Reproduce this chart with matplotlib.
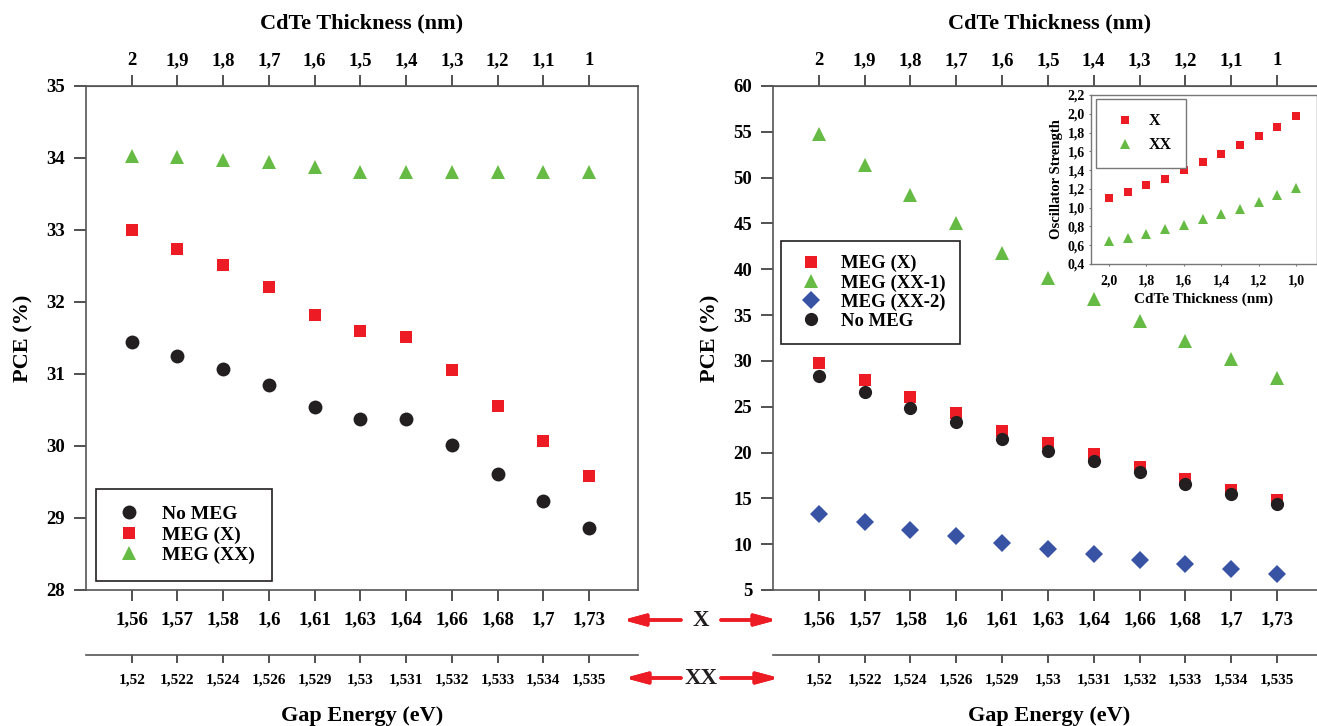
import numpy as np
import matplotlib.pyplot as plt
from matplotlib.ticker import FuncFormatter

plt.rcParams['font.family'] = ['Liberation Serif', 'DejaVu Serif']
plt.rcParams['font.weight'] = 'bold'
plt.rcParams['axes.labelweight'] = 'bold'

# category labels shared by both panels
thickness = ['2', '1,9', '1,8', '1,7', '1,6', '1,5', '1,4', '1,3', '1,2', '1,1', '1']
gap_x = ['1,56', '1,57', '1,58', '1,6', '1,61', '1,63', '1,64', '1,66', '1,68', '1,7', '1,73']
gap_xx = ['1,52', '1,522', '1,524', '1,526', '1,529', '1,53', '1,531', '1,532', '1,533', '1,534', '1,535']

# left panel (PCE %)
left_no_meg = [31.44, 31.25, 31.07, 30.85, 30.54, 30.38, 30.37, 30.02, 29.61, 29.23, 28.86]
left_meg_x = [33.0, 32.73, 32.52, 32.21, 31.82, 31.60, 31.51, 31.06, 30.56, 30.07, 29.58]
left_meg_xx = [34.03, 34.02, 33.97, 33.95, 33.87, 33.80, 33.80, 33.80, 33.80, 33.80, 33.80]

# right panel (PCE %)
right_meg_x = [29.8, 27.9, 26.1, 24.3, 22.4, 21.0, 19.8, 18.4, 17.1, 15.9, 14.8]
right_meg_xx1 = [54.8, 51.4, 48.1, 45.1, 41.8, 39.1, 36.8, 34.4, 32.2, 30.2, 28.1]
right_meg_xx2 = [13.3, 12.4, 11.6, 10.9, 10.1, 9.5, 8.9, 8.3, 7.8, 7.3, 6.8]
right_no_meg = [28.4, 26.6, 24.9, 23.3, 21.5, 20.2, 19.1, 17.9, 16.6, 15.5, 14.4]

# inset: oscillator strength vs thickness
inset_thick = [2.0, 1.9, 1.8, 1.7, 1.6, 1.5, 1.4, 1.3, 1.2, 1.1, 1.0]
osc_x = [1.10, 1.17, 1.24, 1.31, 1.40, 1.49, 1.57, 1.67, 1.76, 1.86, 1.98]
osc_xx = [0.64, 0.68, 0.72, 0.77, 0.82, 0.88, 0.93, 0.99, 1.06, 1.13, 1.21]

RED = '#ED1C24'
GREEN = '#66BB44'
BLUE = '#3953A4'
BLACK = '#231F20'
SPINE = '#555555'

W, H = 1317, 726
fig = plt.figure(figsize=(W / 100, H / 100), dpi=100)


def px_box(x0, y0, x1, y1):
    return [x0 / W, 1 - y1 / H, (x1 - x0) / W, (y1 - y0) / H]


def style_panel(ax, ylim, yticks):
    idx = np.arange(len(gap_x))
    ax.set_xlim(-1, 11.07)
    ax.set_ylim(*ylim)
    ax.set_yticks(yticks)
    ax.set_xticks(idx, gap_x)
    ax.tick_params(axis='x', direction='out', length=8, width=1.2, pad=7, labelsize=13.5, color='#333333')
    ax.tick_params(axis='y', direction='out', length=9, width=1.2, pad=6, labelsize=13.5, color='#333333')
    ax.set_ylabel('PCE (%)', fontsize=16, labelpad=9)
    for s in ax.spines.values():
        s.set_color(SPINE)
        s.set_linewidth(1.2)

    top = ax.secondary_xaxis('top')
    top.set_xticks(idx, thickness)
    top.tick_params(direction='out', length=8, width=1.2, pad=4, labelsize=13.5, color='#333333')
    top.set_xlabel('CdTe Thickness (nm)', fontsize=16, labelpad=17)
    top.spines['top'].set_color(SPINE)

    bot = ax.secondary_xaxis(-65 / 504)
    bot.set_xticks(idx, gap_xx)
    bot.tick_params(direction='out', length=6, width=1.2, pad=7, labelsize=11, color='#333333')
    bot.set_xlabel('Gap Energy (eV)', fontsize=16, labelpad=14)
    bot.spines['bottom'].set_color(SPINE)
    bot.spines['bottom'].set_linewidth(1.2)


idx = np.arange(len(gap_x))

# ---- left panel
ax1 = fig.add_axes(px_box(86, 86, 638, 590))
ax1.plot(idx, left_no_meg, 'o', color=BLACK, ms=10, mew=0, label='No MEG')
ax1.plot(idx, left_meg_x, 's', color=RED, ms=8.5, mew=0, label='MEG (X)')
ax1.plot(idx, left_meg_xx, '^', color=GREEN, ms=10, mew=0, label='MEG (XX)')
style_panel(ax1, (28, 35), range(28, 36))
leg1 = ax1.legend(loc='upper left', bbox_to_anchor=(96 / W, 1 - 489 / H), bbox_transform=fig.transFigure,
                  fontsize=14, frameon=True, fancybox=False, edgecolor=BLACK, framealpha=1,
                  borderpad=0.85, handlelength=1.7, handletextpad=0.85, labelspacing=0.15, borderaxespad=0)
leg1.get_frame().set_linewidth(1.2)

# ---- right panel
ax2 = fig.add_axes(px_box(773, 86, 1326, 590))
ax2.plot(idx, right_meg_x, 's', color=RED, ms=8.5, mew=0, label='MEG (X)')
ax2.plot(idx, right_meg_xx1, '^', color=GREEN, ms=10, mew=0, label='MEG (XX-1)')
ax2.plot(idx, right_meg_xx2, 'D', color=BLUE, ms=9, mew=0, label='MEG (XX-2)')
ax2.plot(idx, right_no_meg, 'o', color=BLACK, ms=9.5, mew=0, label='No MEG')
style_panel(ax2, (5, 60), range(5, 61, 5))
leg2 = ax2.legend(loc='upper left', bbox_to_anchor=(781 / W, 1 - 241 / H), bbox_transform=fig.transFigure,
                  fontsize=13.5, frameon=True, fancybox=False, edgecolor=BLACK, framealpha=1,
                  borderpad=0.75, handlelength=1.7, handletextpad=0.75, labelspacing=0.1, borderaxespad=0)
leg2.get_frame().set_linewidth(1.2)

# ---- inset
axin = fig.add_axes(px_box(1091, 95, 1317, 264))
axin.plot(inset_thick, osc_x, 's', color=RED, ms=6, mew=0, label='X')
axin.plot(inset_thick, osc_xx, '^', color=GREEN, ms=6.5, mew=0, label='XX')
axin.set_xlim(2.096, 0.888)
axin.set_ylim(0.4, 2.2)
axin.set_xticks([2.0, 1.8, 1.6, 1.4, 1.2, 1.0])
axin.set_yticks(np.arange(0.4, 2.21, 0.2))
comma = FuncFormatter(lambda v, p: f'{v:.1f}'.replace('.', ','))
axin.xaxis.set_major_formatter(comma)
axin.yaxis.set_major_formatter(comma)
axin.tick_params(direction='out', length=1.5, width=0.8, pad=3, labelsize=10, color='#777777')
axin.tick_params(axis='x', pad=6)
axin.set_xlabel('CdTe Thickness (nm)', fontsize=11, labelpad=4)
axin.set_ylabel('Oscillator Strength', fontsize=10.5, labelpad=3)
for s in axin.spines.values():
    s.set_color('#777777')
    s.set_linewidth(1)
leg3 = axin.legend(loc='upper left', bbox_to_anchor=(1096 / W, 1 - 99 / H), bbox_transform=fig.transFigure,
                   fontsize=11.5, frameon=True, fancybox=False, edgecolor='#777777', framealpha=1,
                   borderpad=0.9, handlelength=1.8, handletextpad=0.6, labelspacing=0.5, borderaxespad=0)
leg3.get_frame().set_linewidth(1)

# ---- X / XX arrows between panels
for label, y, x_l, x_r in [('X', 620, 623, 777), ('XX', 678, 625, 779)]:
    yf = 1 - y / H
    fig.text(701 / W, yf, label, ha='center', va='center', fontsize=16.5, fontweight='bold', color=BLACK)
    arrow = dict(arrowstyle='-|>,head_length=1.3,head_width=0.35', color=RED, lw=2.5, shrinkA=0, shrinkB=0)
    fig.add_artist(plt.annotate('', xy=(x_l / W, yf), xytext=(681 / W, yf), xycoords='figure fraction',
                                textcoords='figure fraction', arrowprops=arrow))
    fig.add_artist(plt.annotate('', xy=(x_r / W, yf), xytext=(721 / W, yf), xycoords='figure fraction',
                                textcoords='figure fraction', arrowprops=arrow))

fig.savefig('out.png', dpi=100)
